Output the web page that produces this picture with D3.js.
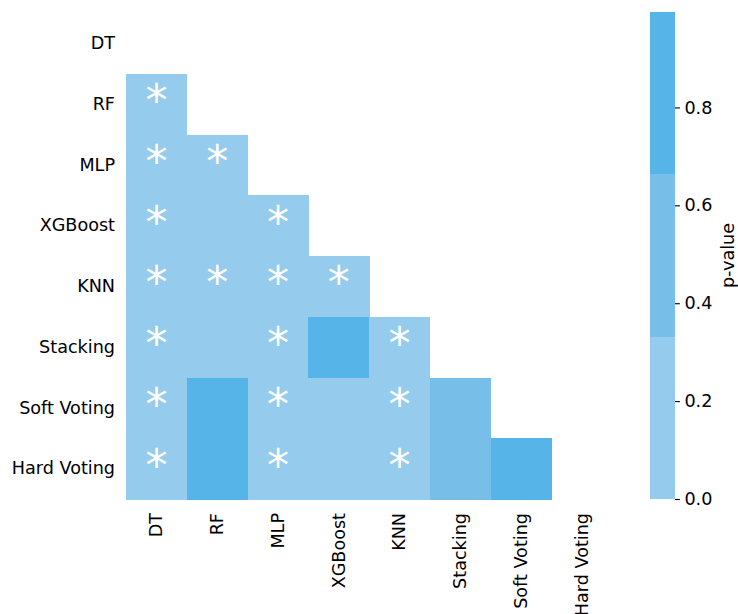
<!DOCTYPE html>
<html>
<head>
<meta charset="utf-8">
<script src="https://cdn.jsdelivr.net/npm/d3@7"></script>
<style>
  html, body { margin: 0; padding: 0; background: #fff; }
  svg { display: block; }
  text { font-family: "DejaVu Sans", sans-serif; fill: #000; }
</style>
</head>
<body>
<svg id="chart" width="738" height="614"></svg>
<script>
// Models compared pairwise
const models = ["DT", "RF", "MLP", "XGBoost", "KNN", "Stacking", "Soft Voting", "Hard Voting"];

// Lower-triangle p-values, one array per row (row i holds columns 0..i-1)
const rowRF       = [0.002];
const rowMLP      = [0.001, 0.004];
const rowXGBoost  = [0.003, 0.21, 0.01];
const rowKNN      = [0.001, 0.02, 0.003, 0.03];
const rowStacking = [0.002, 0.18, 0.008, 0.995, 0.01];
const rowSoft     = [0.002, 0.86, 0.006, 0.25, 0.01, 0.52];
const rowHard     = [0.002, 0.86, 0.006, 0.25, 0.01, 0.52, 0.91];
const lowerRows = [[], rowRF, rowMLP, rowXGBoost, rowKNN, rowStacking, rowSoft, rowHard];

// Significance threshold for the star marker
const alpha = 0.05;

// Discrete palette (three bins over the value range)
const palette = ["#95cced", "#77bfe9", "#57b4e8"];
const colorbarTicks = [0.0, 0.2, 0.4, 0.6, 0.8];

const cells = [];
lowerRows.forEach((vals, i) => vals.forEach((p, j) => cells.push({ row: models[i], col: models[j], p })));
const vmax = d3.max(cells, d => d.p);

const svg = d3.select("#chart");

const x = d3.scaleBand().domain(models).range([126, 612]);
const y = d3.scaleBand().domain(models).range([13, 499]);
const color = d3.scaleQuantize().domain([0, vmax]).range(palette);

const fs = 17.6;

// heatmap cells
svg.append("g").selectAll("rect").data(cells).join("rect")
  .attr("x", d => x(d.col))
  .attr("y", d => y(d.row))
  .attr("width", x.bandwidth() + 0.5)
  .attr("height", y.bandwidth() + 0.5)
  .attr("fill", d => color(d.p))
  .attr("shape-rendering", "crispEdges");

// significance stars
svg.append("g").selectAll("text").data(cells.filter(d => d.p < alpha)).join("text")
  .attr("x", d => x(d.col) + x.bandwidth() / 2)
  .attr("y", d => y(d.row) + y.bandwidth() / 2 + 12)
  .attr("text-anchor", "middle")
  .style("font-size", "44px")
  .style("fill", "#fff")
  .text("*");

// row labels
const yAxis = d3.axisLeft(y).tickSize(0).tickPadding(11);
const gy = svg.append("g").attr("transform", "translate(126,0)").call(yAxis);
gy.select(".domain").remove();
gy.selectAll("text").style("font-size", fs + "px").attr("fill", "#000");

// column labels, rotated
const xAxis = d3.axisBottom(x).tickSize(0).tickPadding(0);
const gx = svg.append("g").attr("transform", "translate(0,499)").call(xAxis);
gx.select(".domain").remove();
gx.selectAll("text")
  .style("font-size", fs + "px")
  .attr("fill", "#000")
  .attr("text-anchor", "end")
  .attr("dy", null)
  .attr("dominant-baseline", "central")
  .attr("transform", "translate(0,14) rotate(-90)")
  .attr("x", 0).attr("y", 0);

// colorbar
const cbX = 650, cbW = 25;
const cbScale = d3.scaleLinear().domain([0, vmax]).range([499, 12]);
const bins = palette.map((c, k) => ({ c, lo: vmax * k / palette.length, hi: vmax * (k + 1) / palette.length }));
svg.append("g").selectAll("rect").data(bins).join("rect")
  .attr("x", cbX)
  .attr("width", cbW)
  .attr("y", d => cbScale(d.hi))
  .attr("height", d => cbScale(d.lo) - cbScale(d.hi))
  .attr("fill", d => d.c)
  .attr("shape-rendering", "crispEdges");

const cAxis = d3.axisRight(cbScale).tickValues(colorbarTicks).tickFormat(d3.format(".1f"))
  .tickSize(4.9).tickPadding(4.5);
const gc = svg.append("g").attr("transform", `translate(${cbX + cbW},0)`).call(cAxis);
gc.select(".domain").remove();
gc.selectAll("line").attr("stroke", "#000").attr("stroke-width", 1.1);
gc.selectAll("text").style("font-size", fs + "px").attr("fill", "#000");

svg.append("text")
  .attr("transform", `translate(728,${(12 + 499) / 2}) rotate(-90)`)
  .attr("text-anchor", "middle")
  .attr("dominant-baseline", "central")
  .style("font-size", fs + "px")
  .text("p-value");
</script>
</body>
</html>
